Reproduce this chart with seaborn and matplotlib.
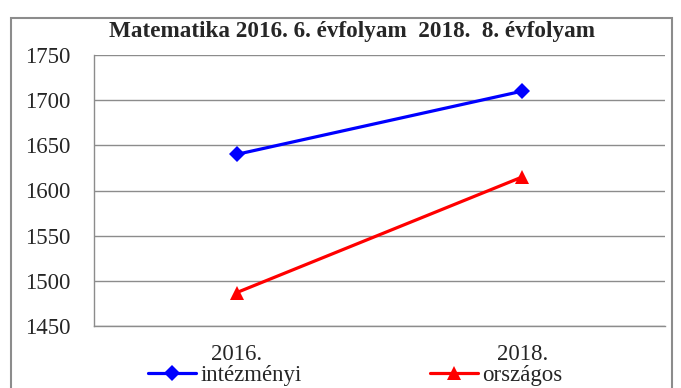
import matplotlib
matplotlib.use("Agg")
import matplotlib.pyplot as plt
import seaborn as sns
import pandas as pd
from matplotlib.patches import Rectangle

# Data
years = ["2016.", "2018."]
intezmenyi = [1640, 1710]
orszagos = [1487, 1615]
series_names = ["intézményi", "országos"]
y_ticks = [1450, 1500, 1550, 1600, 1650, 1700, 1750]

df = pd.DataFrame({
    "pos": list(range(len(years))) * 2,
    "value": intezmenyi + orszagos,
    "series": [series_names[0]] * len(years) + [series_names[1]] * len(years),
})

sns.set_theme(style="white")
plt.rcParams["font.family"] = ["Liberation Serif", "DejaVu Serif"]

fig = plt.figure(figsize=(6.81, 3.88), dpi=100)
ax = fig.add_axes([94 / 681, 1 - 326 / 388, (665 - 94) / 681, (326 - 55) / 388])

# Outer chart frame
fig.patches.append(Rectangle((11 / 681, -0.1), (672 - 11) / 681, 1 - 18 / 388 + 0.1,
                             transform=fig.transFigure, fill=False,
                             edgecolor="#8c8c8c", linewidth=1.5))

sns.lineplot(data=df, x="pos", y="value", hue="series", style="series",
             palette={series_names[0]: "#0000ff", series_names[1]: "#ff0000"},
             markers={series_names[0]: "D", series_names[1]: "^"},
             dashes=False, linewidth=2.3, markersize=8, markeredgewidth=0,
             ax=ax, legend=True)
for line in ax.lines:
    if line.get_marker() == "^":
        line.set_markersize(10)

ax.set_xlim(-0.5, len(years) - 0.5)
ax.set_ylim(1450, 1750)
ax.set_yticks(y_ticks)
ax.set_yticklabels([str(v) for v in y_ticks], fontsize=16.5)
ax.set_xticks([-0.5, 0.5, 1.5])
ax.set_xticklabels([])
ax.set_xticks(range(len(years)), minor=True)
ax.set_xticklabels(years, minor=True, fontsize=16.5)
ax.tick_params(axis="x", which="minor", length=0, pad=13)
ax.tick_params(axis="x", which="major", length=6, color="#8c8c8c", direction="out")
ax.tick_params(axis="y", length=7, color="#8c8c8c", direction="out", pad=10)
ax.set_xlabel("")
ax.set_ylabel("")
ax.grid(axis="y", color="#8c8c8c", linewidth=1)
for side in ["top", "right"]:
    ax.spines[side].set_visible(False)
for side in ["left", "bottom"]:
    ax.spines[side].set_color("#8c8c8c")
    ax.spines[side].set_linewidth(1)

handles, labels = ax.get_legend_handles_labels()
for h in handles:
    if h.get_marker() == "^":
        h.set_markersize(10)
ax.get_legend().remove()
fig.legend(handles, labels, loc="center", bbox_to_anchor=(355 / 681, 1 - 375 / 388),
           ncol=2, frameon=False, fontsize=16.5, handlelength=2.1,
           handletextpad=0.18, columnspacing=5.6, borderpad=0)

fig.text(352 / 681, 1 - 31 / 388, "Matematika 2016. 6. évfolyam  2018.  8. évfolyam",
         ha="center", va="center", fontsize=16.7, fontweight="bold")

fig.savefig("out.png", dpi=100)
